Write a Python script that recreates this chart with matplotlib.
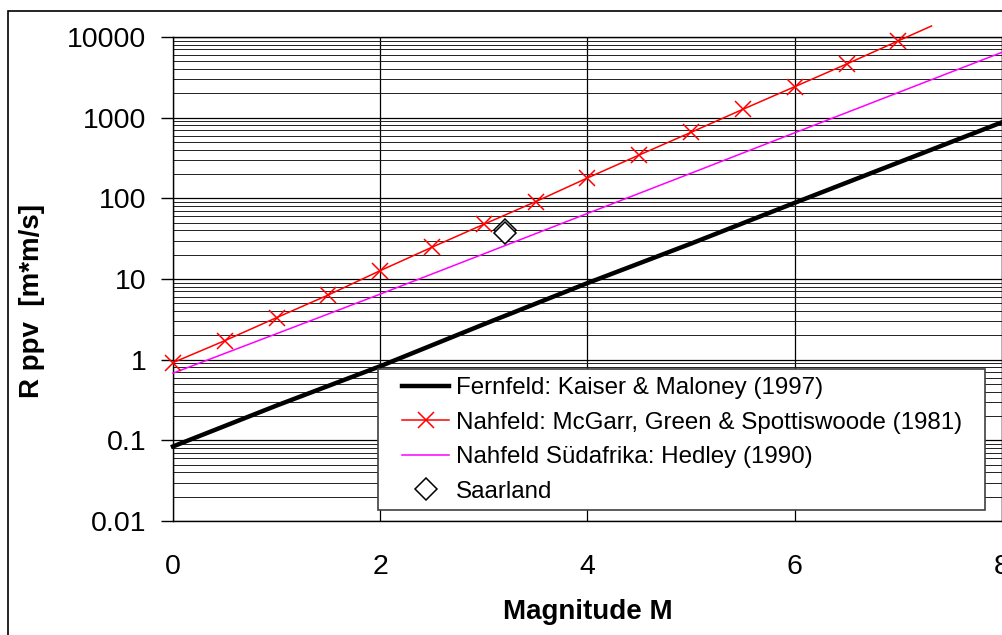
import matplotlib
matplotlib.use("Agg")
import matplotlib.pyplot as plt
from matplotlib.patches import Rectangle
from matplotlib.ticker import FixedLocator, NullFormatter, LogLocator

plt.rcParams['font.family'] = ['Liberation Sans', 'DejaVu Sans']

# Data
fern_m = [0, 1, 2, 3, 4, 5, 6, 7, 8]
fern_r = [0.084, 0.27, 0.83, 2.75, 8.9, 27.5, 88, 278, 877]

mcg_m = [0, 0.5, 1, 1.5, 2, 2.5, 3, 3.5, 4, 4.5, 5, 5.5, 6, 6.5, 7, 7.32]
mcg_r = [0.92, 1.72, 3.32, 6.35, 12.7, 24.8, 47.7, 91, 179, 345, 659, 1271, 2422, 4620, 8970, 13700]

hed_m = [0, 1, 2, 3, 4, 5, 6, 7, 8]
hed_r = [0.68, 2.1, 6.5, 20.5, 65, 205, 650, 2050, 6460]

saar_m = [3.2, 3.2]
saar_r = [40.5, 37.0]

yticks = [0.01, 0.1, 1, 10, 100, 1000, 10000]
ytick_labels = ['0.01', '0.1', '1', '10', '100', '1000', '10000']
xticks = [0, 2, 4, 6, 8]
xtick_labels = ['0', '2', '4', '6', '8']

labels = ['Fernfeld: Kaiser & Maloney (1997)',
          'Nahfeld: McGarr, Green & Spottiswoode (1981)',
          'Nahfeld Südafrika: Hedley (1990)',
          'Saarland']

W, H = 1003, 635
fig = plt.figure(figsize=(W / 100, H / 100), dpi=100)
ax = fig.add_axes([173 / W, (H - 521) / H, (1002 - 173) / W, (521 - 37) / H])

ax.set_yscale('log')
ax.set_xlim(0, 8)
ax.set_ylim(0.01, 10000)

# grid
ax.yaxis.set_major_locator(FixedLocator(yticks))
ax.yaxis.set_minor_locator(LogLocator(base=10, subs=range(2, 10), numticks=100))
ax.yaxis.set_minor_formatter(NullFormatter())
ax.set_yticks(yticks)
ax.set_yticklabels(ytick_labels)
ax.set_xticks(xticks)
ax.set_xticklabels(xtick_labels)
ax.grid(True, which='major', axis='both', color='#000000', lw=0.9)
ax.grid(True, which='minor', axis='y', color='#202020', lw=0.7)
ax.set_axisbelow(True)

ax.tick_params(axis='y', which='major', direction='out', length=9, width=1,
               labelsize=20.5, pad=10)
ax.tick_params(axis='y', which='minor', length=0)
ax.tick_params(axis='x', which='major', length=0, labelsize=20.5, pad=24)

for s in ['left', 'bottom', 'top', 'right']:
    ax.spines[s].set_color('black')
    ax.spines[s].set_linewidth(1.0)

l1, = ax.plot(fern_m, fern_r, color='black', lw=3.2, clip_on=False, zorder=3)
l2, = ax.plot(mcg_m, mcg_r, color='#ff0000', lw=1.1, marker='x', ms=11, mew=1.1,
              markevery=list(range(len(mcg_m) - 1)), clip_on=False, zorder=4)
l3, = ax.plot(hed_m, hed_r, color='#ff00ff', lw=1.1, clip_on=False, zorder=3)
l4, = ax.plot(saar_m, saar_r, ls='none', marker='D', ms=11, mfc='white',
              mec='black', mew=1.1, zorder=5)

# legend frame (pixel coordinates)
def px(x, y):
    return (x / W, 1 - y / H)

fx0, fy0 = px(378, 510)
fx1, fy1 = px(985, 369)
frame = Rectangle((fx0, fy0), fx1 - fx0, fy1 - fy0, transform=fig.transFigure,
                  facecolor='white', edgecolor='#404040', lw=1.2, zorder=9)
fig.add_artist(frame)

leg = fig.legend([l1, l2, l3, l4], labels, loc='upper left',
                 bbox_to_anchor=px(402, 377), bbox_transform=fig.transFigure,
                 borderaxespad=0, borderpad=0, fontsize=17.4, frameon=False,
                 handlelength=1.95, handletextpad=0.3, labelspacing=0.52)
leg.set_zorder(10)

fig.text(588 / W, 1 - 612 / H, 'Magnitude M', ha='center', va='center',
         fontsize=20, fontweight='bold')
fig.text(32 / W, 1 - 301 / H, 'R ppv  [m*m/s]', ha='center', va='center',
         rotation=90, fontsize=20, fontweight='bold')

fig.add_artist(Rectangle((8 / W, -0.1), 1.2, (H - 11) / H + 0.1,
                         transform=fig.transFigure, fill=False, lw=1.2,
                         ec='black'))

fig.savefig('out.png', dpi=100)
